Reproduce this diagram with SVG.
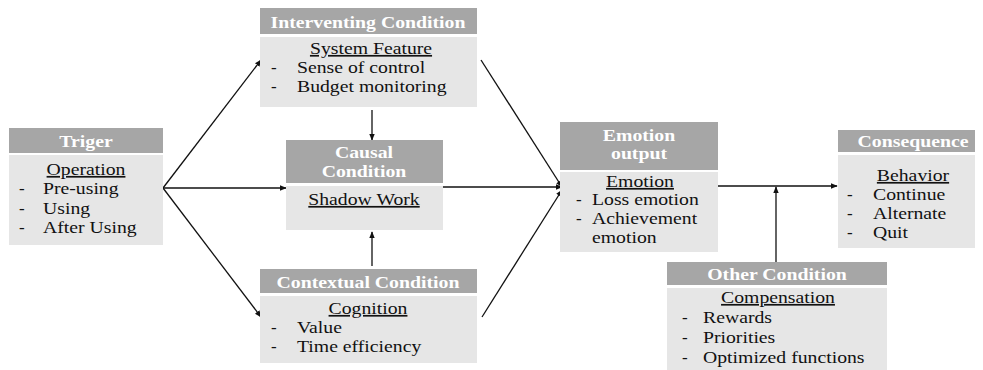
<svg xmlns="http://www.w3.org/2000/svg" width="983" height="370" viewBox="0 0 983 370">
<style>
.hd{fill:#a6a6a6}
.bd{fill:#e6e6e6}
.ht{font-family:"Liberation Serif",serif;font-weight:bold;font-size:17.5px;fill:#ffffff;text-anchor:middle}
.tt{font-family:"Liberation Serif",serif;font-size:17px;fill:#111111}
.ul{text-decoration:underline;text-anchor:middle}
.cn{stroke:#111;stroke-width:1.3;fill:none;marker-end:url(#ah)}
</style>
<defs>
<marker id="ah" viewBox="0 0 10 10" refX="9" refY="5" markerWidth="7" markerHeight="7" markerUnits="userSpaceOnUse" orient="auto">
<path d="M0,1 L10,5 L0,9 z" fill="#111"/>
</marker>
</defs>
<rect width="983" height="370" fill="#ffffff"/>
<g id="connectors">
<line class="cn" x1="163" y1="188" x2="261" y2="60"/>
<line class="cn" x1="163" y1="188" x2="286" y2="188"/>
<line class="cn" x1="163" y1="188" x2="261" y2="317"/>
<line class="cn" x1="481" y1="60" x2="562" y2="187"/>
<line class="cn" x1="443" y1="187" x2="562" y2="187"/>
<line class="cn" x1="482" y1="317" x2="562" y2="190"/>
<line class="cn" x1="372" y1="110" x2="372" y2="140"/>
<line class="cn" x1="372" y1="266" x2="372" y2="232"/>
<line class="cn" x1="718" y1="186" x2="837" y2="186"/>
<line class="cn" x1="776" y1="262" x2="776" y2="187"/>
</g>
<g id="triger">
<rect class="hd" x="9" y="128" width="154" height="25"/>
<rect class="bd" x="9" y="155" width="154" height="90"/>
<text class="ht" transform="translate(86,147) scale(1.13,1)">Triger</text>
<text class="tt ul" transform="translate(86,175) scale(1.16,1)">Operation</text>
<text class="tt" x="19" y="194">-</text><text class="tt" transform="translate(43,194) scale(1.16,1)">Pre-using</text>
<text class="tt" x="19" y="214">-</text><text class="tt" transform="translate(43,214) scale(1.16,1)">Using</text>
<text class="tt" x="19" y="233">-</text><text class="tt" transform="translate(43,233) scale(1.16,1)">After Using</text>
</g>
<g id="interventing">
<rect class="hd" x="260" y="8" width="217" height="26"/>
<rect class="bd" x="260" y="37" width="217" height="70"/>
<text class="ht" transform="translate(368,28) scale(1.13,1)">Interventing Condition</text>
<text class="tt ul" transform="translate(371,54) scale(1.16,1)">System Feature</text>
<text class="tt" x="271" y="73">-</text><text class="tt" transform="translate(297,73) scale(1.16,1)">Sense of control</text>
<text class="tt" x="271" y="92">-</text><text class="tt" transform="translate(297,92) scale(1.16,1)">Budget monitoring</text>
</g>
<g id="causal">
<rect class="hd" x="286" y="140" width="157" height="43"/>
<rect class="bd" x="286" y="186" width="157" height="44"/>
<text class="ht" transform="translate(364,158) scale(1.13,1)">Causal</text>
<text class="ht" transform="translate(364,177) scale(1.13,1)">Condition</text>
<text class="tt ul" transform="translate(364,205) scale(1.16,1)">Shadow Work</text>
</g>
<g id="contextual">
<rect class="hd" x="260" y="269" width="217" height="24"/>
<rect class="bd" x="260" y="296" width="217" height="67"/>
<text class="ht" transform="translate(368,288) scale(1.13,1)">Contextual Condition</text>
<text class="tt ul" transform="translate(368,314) scale(1.16,1)">Cognition</text>
<text class="tt" x="271" y="333">-</text><text class="tt" transform="translate(297,333) scale(1.16,1)">Value</text>
<text class="tt" x="271" y="352">-</text><text class="tt" transform="translate(297,352) scale(1.16,1)">Time efficiency</text>
</g>
<g id="emotion">
<rect class="hd" x="560" y="122" width="158" height="48"/>
<rect class="bd" x="560" y="172" width="158" height="80"/>
<text class="ht" transform="translate(639,141) scale(1.13,1)">Emotion</text>
<text class="ht" transform="translate(639,159) scale(1.13,1)">output</text>
<text class="tt ul" transform="translate(640,187) scale(1.16,1)">Emotion</text>
<text class="tt" x="576" y="205">-</text><text class="tt" transform="translate(592,205) scale(1.16,1)">Loss emotion</text>
<text class="tt" x="576" y="224">-</text><text class="tt" transform="translate(592,224) scale(1.16,1)">Achievement</text>
<text class="tt" transform="translate(592,243) scale(1.16,1)">emotion</text>
</g>
<g id="consequence">
<rect class="hd" x="838" y="130" width="137" height="22"/>
<rect class="bd" x="838" y="155" width="137" height="93"/>
<text class="ht" transform="translate(913,147) scale(1.13,1)">Consequence</text>
<text class="tt ul" transform="translate(913,181) scale(1.16,1)">Behavior</text>
<text class="tt" x="847" y="200">-</text><text class="tt" transform="translate(873,200) scale(1.16,1)">Continue</text>
<text class="tt" x="847" y="219">-</text><text class="tt" transform="translate(873,219) scale(1.16,1)">Alternate</text>
<text class="tt" x="847" y="238">-</text><text class="tt" transform="translate(873,238) scale(1.16,1)">Quit</text>
</g>
<g id="other">
<rect class="hd" x="667" y="262" width="220" height="23"/>
<rect class="bd" x="667" y="288" width="220" height="82"/>
<text class="ht" transform="translate(777,280) scale(1.13,1)">Other Condition</text>
<text class="tt ul" transform="translate(778,303) scale(1.16,1)">Compensation</text>
<text class="tt" x="682" y="323">-</text><text class="tt" transform="translate(703,323) scale(1.16,1)">Rewards</text>
<text class="tt" x="682" y="343">-</text><text class="tt" transform="translate(703,343) scale(1.16,1)">Priorities</text>
<text class="tt" x="682" y="363">-</text><text class="tt" transform="translate(703,363) scale(1.16,1)">Optimized functions</text>
</g>
</svg>
